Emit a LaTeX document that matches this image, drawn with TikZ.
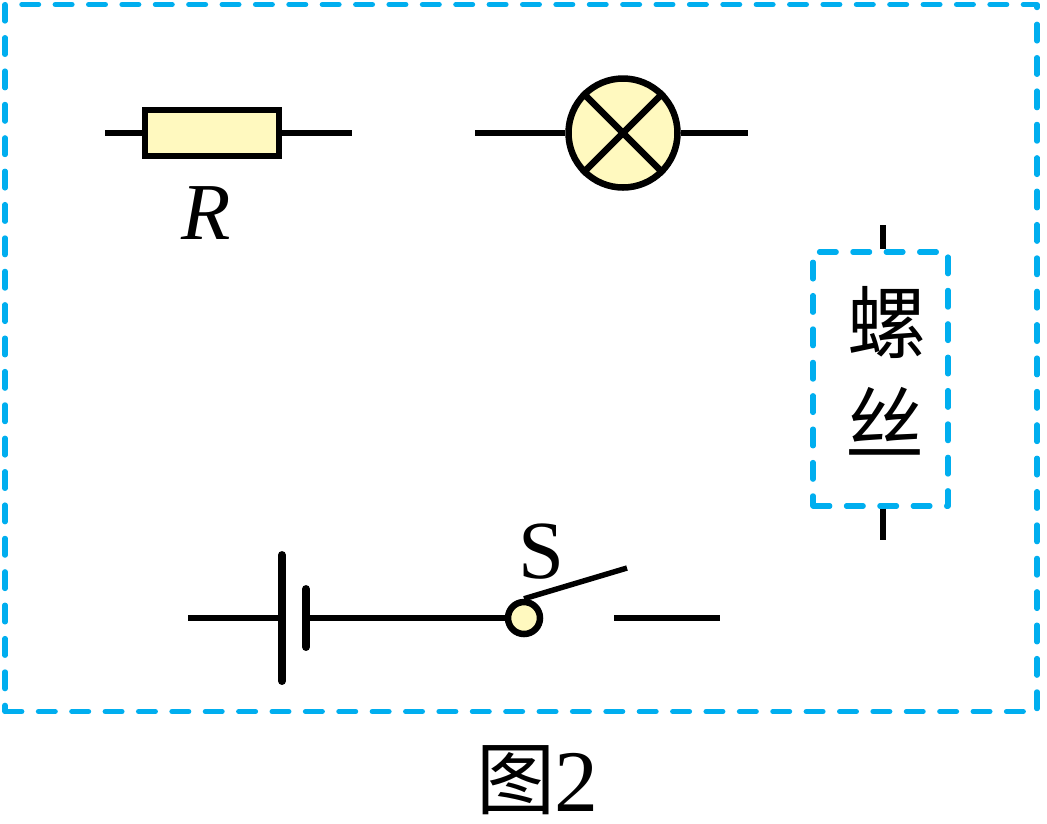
\documentclass[tikz,border=0pt]{standalone}
\usepackage{fontspec}
\setmainfont{Liberation Serif}
\newfontfamily\cjk{Noto Sans CJK SC}
\definecolor{framecol}{RGB}{0,174,239}
\definecolor{fillcol}{RGB}{255,249,191}
\tikzset{
  wire/.style={line width=3.1pt},
  frameline/.style={draw,framecol,line width=2.9pt,line cap=round,line join=round,dash pattern=on 9.6pt off 9.4pt,inner sep=0pt},
  part/.style={draw,line width=3.7pt,fill=fillcol,inner sep=0pt},
  word/.style={inner sep=0pt,font=\fontsize{46pt}{46pt}\selectfont},
  hanzi/.style={inner sep=0pt,font=\cjk\fontsize{45pt}{45pt}\selectfont}
}
\begin{document}
\begin{tikzpicture}[x=0.02cm,y=-0.02cm]
            \useasboundingbox(0, 0) rectangle (1047, 823);

            %%frames
            \node[frameline,minimum width=1032*0.02cm,minimum height=707*0.02cm] at(521, 358)(outer){};
            \node[frameline,minimum width=135*0.02cm,minimum height=254*0.02cm] at(880.5, 379)(screw){};
            \node[hanzi] at(887, 323)(luo){螺};
            \node[hanzi] at(885, 421)(si){丝};
            \coordinate(screwtop) at(883, 225);
            \coordinate(screwbot) at(883, 540);
            \draw[wire](screwtop) to (screw.north -| screwtop);
            \draw[wire](screw.south -| screwbot) to (screwbot);

            %%resistor
            \node[part,minimum width=134*0.02cm,minimum height=46*0.02cm] at(212, 133)(res){};
            \coordinate(resl) at(105, 133);
            \coordinate(resr) at(352, 133);
            \draw[wire](resl) to (res.west);
            \draw[wire](res.east) to (resr);
            \node[word,font=\fontsize{46pt}{46pt}\selectfont\itshape] at(206, 213)(rname){R};

            %%lamp
            \node[part,circle,minimum size=109*0.02cm] at(623, 133)(lamp){};
            \coordinate(lampl) at(475, 133);
            \coordinate(lampr) at(748, 133);
            \draw[wire](lampl) to (lamp.west);
            \draw[wire](lamp.east) to (lampr);
            \draw[line width=3.7pt](lamp.north west) to (lamp.south east);
            \draw[line width=3.7pt](lamp.north east) to (lamp.south west);

            %%battery and switch
            \coordinate(batl) at(188, 618);
            \coordinate(longtop) at(282, 555);
            \coordinate(longbot) at(282, 681);
            \coordinate(shorttop) at(306, 589);
            \coordinate(shortbot) at(306, 647);
            \coordinate(shortmid) at(306, 618);
            \coordinate(longmid) at(282, 618);
            \node[part,circle,minimum size=32*0.02cm] at(524, 618)(pivot){};
            \coordinate(blade) at(627, 568);
            \coordinate(contl) at(614, 618);
            \coordinate(contr) at(720, 618);
            \draw[wire](batl) to (longmid);
            \draw[line width=4.5pt,line cap=round](longtop) to (longbot);
            \draw[line width=4.5pt,line cap=round](shorttop) to (shortbot);
            \draw[wire](shortmid) to (pivot.west);
            \draw[wire](pivot.north) to (blade);
            \draw[wire](contl) to (contr);
            \node[word,font=\fontsize{47pt}{47pt}\selectfont] at(541, 552)(sname){S};

            %%caption
            \node[hanzi] at(516, 780)(capa){图};
            \node[word,font=\fontsize{50pt}{50pt}\selectfont] at(576, 782)(capb){2};
\end{tikzpicture}
\end{document}
